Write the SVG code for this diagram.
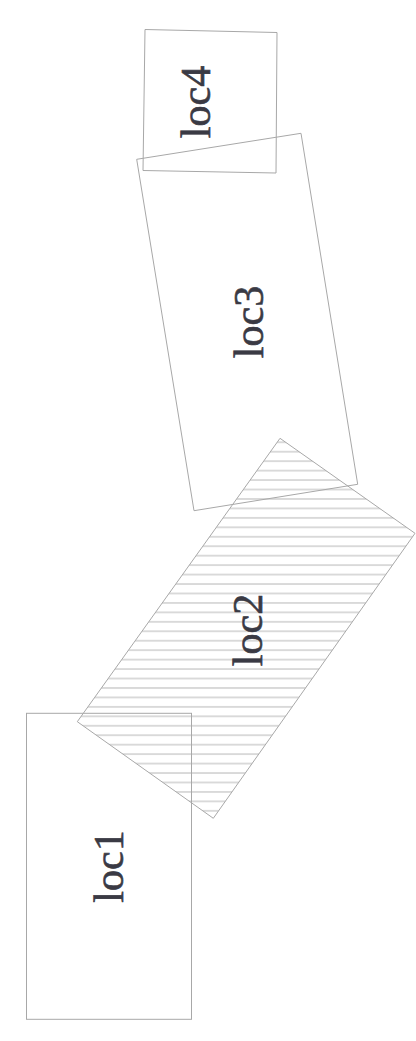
<svg xmlns="http://www.w3.org/2000/svg" width="416" height="1041" viewBox="0 0 416 1041">
<style>
.box{fill:none;stroke:#a8a8a8;stroke-width:1}
.lbl{font-family:"Liberation Serif","Times New Roman",serif;font-size:42px;fill:#3a3a44;stroke:#3a3a44;stroke-width:0.6;text-anchor:middle}
</style>
<defs>
<pattern id="hatch" patternUnits="userSpaceOnUse" x="0" y="437.55" width="420" height="9.45">
<line x1="0" y1="4.7" x2="420" y2="4.7" stroke="#b4b4b4" stroke-width="1"/>
</pattern>
</defs>
<rect width="416" height="1041" fill="#ffffff"/>
<g id="loc2">
<polygon points="280,438.3 415,533.3 213.3,818.3 77.3,721.7" fill="url(#hatch)" stroke="#a8a8a8" stroke-width="1"/>
<text class="lbl" transform="translate(262,630) rotate(-90)">loc2</text>
</g>
<g id="loc1">
<rect class="box" x="26.5" y="713.3" width="165" height="306"/>
<text class="lbl" transform="translate(123.3,866.5) rotate(-90)">loc1</text>
</g>
<g id="loc3">
<polygon class="box" points="136.7,159.3 301,133.3 357.7,484.3 194,510.7"/>
<text class="lbl" transform="translate(263,322) rotate(-90)">loc3</text>
</g>
<g id="loc4">
<polygon class="box" points="145,29.5 277,32.5 276,173 143,170.5"/>
<text class="lbl" transform="translate(210,102) rotate(-90)">loc4</text>
</g>
<g id="connectors"></g>
</svg>
